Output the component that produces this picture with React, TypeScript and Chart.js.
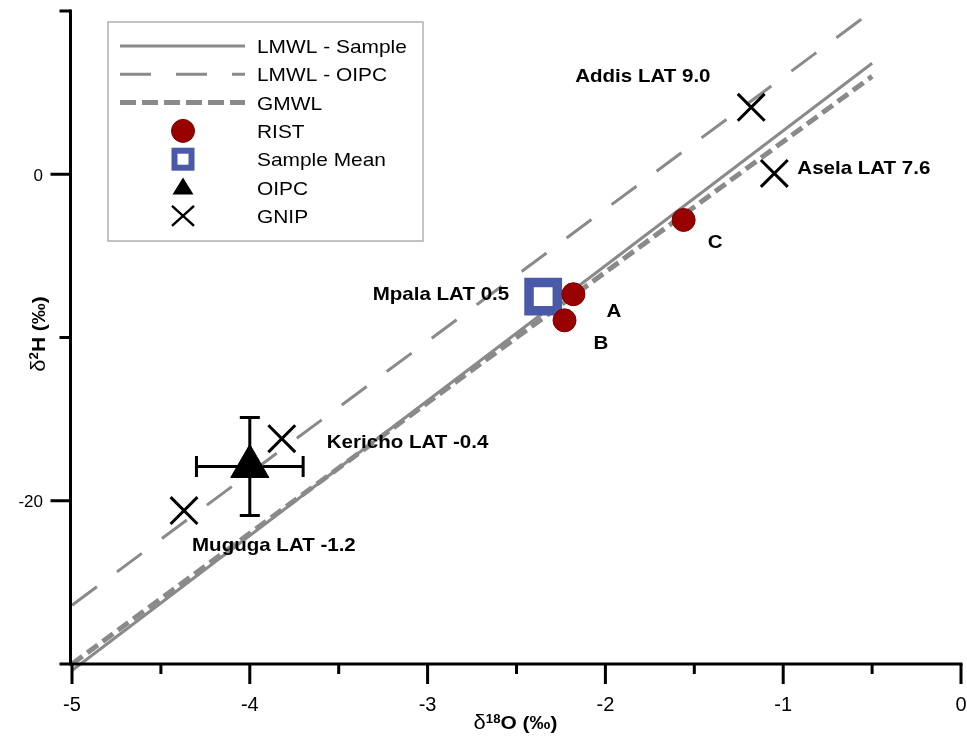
import React, { useEffect, useRef } from 'react';
import { Chart, registerables } from 'chart.js';

Chart.register(...registerables);

// ---------- data ----------
const xLabelTicks = [-5, -4, -3, -2, -1, 0];
const yLabelTicks = [0, -20];

const ristNames = ['A', 'B', 'C'];
const ristX = [-2.18, -2.23, -1.56];
const ristY = [-7.35, -8.95, -2.8];

const meanName = 'Mpala LAT 0.5';
const meanX = [-2.35];
const meanY = [-7.5];

const oipcX = [-4.0];
const oipcY = [-17.9];
const oipcErrX = [0.3];
const oipcErrY = [3.0];

const gnipNames = ['Addis LAT 9.0', 'Asela LAT 7.6', 'Kericho LAT -0.4', 'Muguga LAT -1.2'];
const gnipX = [-1.18, -1.05, -3.82, -4.37];
const gnipY = [4.1, 0.05, -16.2, -20.6];

const lmwlSampleX = [-5, -0.5];
const lmwlSampleY = [-30.4, 6.8];
const lmwlOipcX = [-5, -0.56];
const lmwlOipcY = [-26.4, 9.5];
const gmwlX = [-5, -0.5];
const gmwlY = [-30, 6];

const legendNames = ['LMWL - Sample', 'LMWL - OIPC', 'GMWL', 'RIST', 'Sample Mean', 'OIPC', 'GNIP'];

// ---------- style / layout ----------
const FONT = '"Liberation Sans", Arial, Helvetica, sans-serif';
const GRAY = '#8a8a8a';
const RED = '#990000';
const BLUE = '#4a5aa8';
const SX = 1.08;

// label offsets (pixels) from their points
const gnipLabelOff: [number, number][] = [[-176, -25], [23, 1], [45, 9], [8, 40]];
const ristLabelOff: [number, number][] = [[33, 23], [29, 29], [24, 28]];
const meanLabelOff: [number, number] = [-34, 3];

function stretchText(ctx: CanvasRenderingContext2D, text: string, x: number, y: number, font: string, align: 'left' | 'right' | 'center', sx = SX) {
  ctx.save();
  ctx.font = font;
  ctx.textBaseline = 'alphabetic';
  ctx.textAlign = 'left';
  ctx.fillStyle = '#000';
  const w = ctx.measureText(text).width * sx;
  const left = align === 'left' ? x : align === 'right' ? x - w : x - w / 2;
  ctx.translate(left, y);
  ctx.scale(sx, 1);
  ctx.fillText(text, 0, 0);
  ctx.restore();
  return w;
}

type Part = { t: string; font: string; dy: number };
function drawParts(ctx: CanvasRenderingContext2D, parts: Part[], cx: number, base: number, sx = 1.1) {
  ctx.save();
  ctx.fillStyle = '#000';
  ctx.textBaseline = 'alphabetic';
  ctx.textAlign = 'left';
  let total = 0;
  const ws = parts.map(p => { ctx.font = p.font; const w = ctx.measureText(p.t).width * sx; total += w; return w; });
  let x = cx - total / 2;
  parts.forEach((p, i) => {
    ctx.save();
    ctx.font = p.font;
    ctx.translate(x, base + p.dy);
    ctx.scale(sx, 1);
    ctx.fillText(p.t, 0, 0);
    ctx.restore();
    x += ws[i];
  });
  ctx.restore();
}

const customPlugin = {
  id: 'customDraw',
  beforeDatasetsDraw(chart: any) {
    const ctx: CanvasRenderingContext2D = chart.ctx;
    const xs = chart.scales.x, ys = chart.scales.y;
    ctx.save();
    ctx.strokeStyle = '#000';
    ctx.lineWidth = 3;
    oipcX.forEach((x, i) => {
      const px = xs.getPixelForValue(x), py = ys.getPixelForValue(oipcY[i]);
      const y1 = ys.getPixelForValue(oipcY[i] + oipcErrY[i]), y2 = ys.getPixelForValue(oipcY[i] - oipcErrY[i]);
      const x1 = xs.getPixelForValue(x - oipcErrX[i]), x2 = xs.getPixelForValue(x + oipcErrX[i]);
      ctx.beginPath();
      ctx.moveTo(px, y1); ctx.lineTo(px, y2);
      ctx.moveTo(px - 10, y1); ctx.lineTo(px + 10, y1);
      ctx.moveTo(px - 10, y2); ctx.lineTo(px + 10, y2);
      ctx.moveTo(x1, py); ctx.lineTo(x2, py);
      ctx.moveTo(x1, py - 10.5); ctx.lineTo(x1, py + 10.5);
      ctx.moveTo(x2, py - 10.5); ctx.lineTo(x2, py + 10.5);
      ctx.stroke();
    });
    ctx.restore();
  },
  afterDraw(chart: any) {
    const ctx: CanvasRenderingContext2D = chart.ctx;
    const xs = chart.scales.x, ys = chart.scales.y;
    const { left, right, top, bottom } = chart.chartArea;

    // axes
    ctx.save();
    ctx.strokeStyle = '#000';
    ctx.lineWidth = 3;
    ctx.lineCap = 'butt';
    ctx.beginPath();
    ctx.moveTo(left - 1.5, top - 1.5);
    ctx.lineTo(left - 1.5, bottom + 1.5);
    ctx.moveTo(left - 1.5, bottom);
    ctx.lineTo(right + 1.5, bottom);
    ctx.stroke();

    const yt: number[] = ys.ticks.map((t: any) => t.value);
    ctx.beginPath();
    yt.forEach(v => {
      const py = ys.getPixelForValue(v);
      const len = v % 20 === 0 ? 20 : 11;
      ctx.moveTo(left - 1.5 - len, py);
      ctx.lineTo(left - 1.5, py);
    });
    const xt: number[] = xs.ticks.map((t: any) => t.value);
    xt.forEach(v => {
      const px = Math.min(xs.getPixelForValue(v), right);
      const len = Math.abs(v - Math.round(v)) < 1e-6 ? 20 : 10;
      ctx.moveTo(px, bottom);
      ctx.lineTo(px, bottom + len);
    });
    ctx.stroke();
    ctx.restore();

    // tick labels
    ctx.save();
    ctx.fillStyle = '#000';
    ctx.textBaseline = 'alphabetic';
    ctx.font = `17px ${FONT}`;
    ctx.textAlign = 'right';
    yLabelTicks.forEach(v => {
      ctx.fillText(String(v), 43, ys.getPixelForValue(v) + 6.5);
    });
    ctx.font = `20px ${FONT}`;
    ctx.textAlign = 'center';
    xLabelTicks.forEach(v => {
      ctx.fillText(String(v), xs.getPixelForValue(v), 711);
    });
    ctx.restore();

    // axis titles
    drawParts(ctx, [
      { t: 'δ', font: `20px ${FONT}`, dy: 0 },
      { t: '18', font: `bold 12px ${FONT}`, dy: -6 },
      { t: 'O (‰)', font: `bold 19px ${FONT}`, dy: 0 },
    ], (left + right) / 2 - 1, 729);

    ctx.save();
    ctx.translate(45, 334);
    ctx.rotate(-Math.PI / 2);
    drawParts(ctx, [
      { t: 'δ', font: `20px ${FONT}`, dy: 0 },
      { t: '2', font: `bold 12px ${FONT}`, dy: -7 },
      { t: 'H (‰)', font: `bold 19px ${FONT}`, dy: 0 },
    ], 0, 0);
    ctx.restore();

    // annotations
    const bold = `bold 19px ${FONT}`;
    gnipNames.forEach((n, i) => {
      const px = xs.getPixelForValue(gnipX[i]), py = ys.getPixelForValue(gnipY[i]);
      stretchText(ctx, n, px + gnipLabelOff[i][0], py + gnipLabelOff[i][1], bold, 'left');
    });
    ristNames.forEach((n, i) => {
      const px = xs.getPixelForValue(ristX[i]), py = ys.getPixelForValue(ristY[i]);
      stretchText(ctx, n, px + ristLabelOff[i][0], py + ristLabelOff[i][1], bold, 'left');
    });
    {
      const px = xs.getPixelForValue(meanX[0]), py = ys.getPixelForValue(meanY[0]);
      stretchText(ctx, meanName, px + meanLabelOff[0], py + meanLabelOff[1], bold, 'right');
    }

    // legend
    ctx.save();
    ctx.fillStyle = '#fff';
    ctx.fillRect(108, 22, 315, 219);
    ctx.strokeStyle = '#b0b0b0';
    ctx.lineWidth = 1.5;
    ctx.strokeRect(108, 22, 315, 219);
    const rowY = (i: number) => 46 + i * 28.3;
    const sx0 = 120, sx1 = 245, cx = 183;
    ctx.strokeStyle = GRAY;
    ctx.lineWidth = 3;
    ctx.beginPath(); ctx.moveTo(sx0, rowY(0)); ctx.lineTo(sx1, rowY(0)); ctx.stroke();
    ctx.setLineDash([31, 25]);
    ctx.beginPath(); ctx.moveTo(sx0, rowY(1)); ctx.lineTo(sx1, rowY(1)); ctx.stroke();
    ctx.setLineDash([16, 6]);
    ctx.lineWidth = 5;
    ctx.beginPath(); ctx.moveTo(sx0, rowY(2)); ctx.lineTo(sx1, rowY(2)); ctx.stroke();
    ctx.setLineDash([]);
    ctx.fillStyle = RED; ctx.strokeStyle = '#7a0000'; ctx.lineWidth = 1;
    ctx.beginPath(); ctx.arc(cx, rowY(3), 11.5, 0, Math.PI * 2); ctx.fill(); ctx.stroke();
    ctx.fillStyle = BLUE;
    ctx.fillRect(cx - 11.5, rowY(4) - 11.5, 23, 23);
    ctx.fillStyle = '#fff';
    ctx.fillRect(cx - 5.5, rowY(4) - 5.5, 11, 11);
    ctx.fillStyle = '#000';
    ctx.beginPath();
    ctx.moveTo(cx, rowY(5) - 10);
    ctx.lineTo(cx + 10.5, rowY(5) + 7);
    ctx.lineTo(cx - 10.5, rowY(5) + 7);
    ctx.closePath(); ctx.fill();
    ctx.strokeStyle = '#000'; ctx.lineWidth = 2.5;
    ctx.beginPath();
    ctx.moveTo(cx - 11, rowY(6) - 10); ctx.lineTo(cx + 11, rowY(6) + 10);
    ctx.moveTo(cx + 11, rowY(6) - 10); ctx.lineTo(cx - 11, rowY(6) + 10);
    ctx.stroke();
    ctx.restore();
    legendNames.forEach((n, i) => {
      stretchText(ctx, n, 257, rowY(i) + 7, `19px ${FONT}`, 'left', 1.1);
    });
  },
};

export default function App() {
  const ref = useRef<HTMLCanvasElement>(null);
  useEffect(() => {
    const canvas = ref.current;
    if (!canvas) return;
    const pts = (xs: number[], ys: number[]) => xs.map((x, i) => ({ x, y: ys[i] }));
    const chart = new Chart(canvas, {
      type: 'scatter',
      data: {
        datasets: [
          { label: 'RIST', data: pts(ristX, ristY), pointStyle: 'circle', pointRadius: 11.5, backgroundColor: RED, borderColor: '#7a0000', borderWidth: 1, order: 1 },
          { label: 'Sample Mean', data: pts(meanX, meanY), pointStyle: 'rect', pointRadius: 20, backgroundColor: '#ffffff', borderColor: BLUE, borderWidth: 9.5, order: 2 },
          { label: 'OIPC', data: pts(oipcX, oipcY), pointStyle: 'triangle', pointRadius: 22, backgroundColor: '#000', borderColor: '#000', borderWidth: 1, order: 3 },
          { label: 'GNIP', data: pts(gnipX, gnipY), pointStyle: 'crossRot', pointRadius: 19, borderColor: '#000', backgroundColor: '#000', borderWidth: 3, order: 4 },
          { label: 'GMWL', data: pts(gmwlX, gmwlY), showLine: true, pointRadius: 0, borderColor: GRAY, borderWidth: 5, borderDash: [13, 6], clip: false, order: 5 } as any,
          { label: 'LMWL - OIPC', data: pts(lmwlOipcX, lmwlOipcY), showLine: true, pointRadius: 0, borderColor: GRAY, borderWidth: 3, borderDash: [31, 25], clip: false, order: 6 } as any,
          { label: 'LMWL - Sample', data: pts(lmwlSampleX, lmwlSampleY), showLine: true, pointRadius: 0, borderColor: GRAY, borderWidth: 3, clip: false, order: 7 } as any,
        ],
      },
      options: {
        responsive: false,
        animation: false,
        events: [],
        layout: { autoPadding: false, padding: { left: 72, top: 11, right: 6, bottom: 72 } },
        plugins: { legend: { display: false }, tooltip: { enabled: false } },
        scales: {
          x: { type: 'linear', min: -5, max: 0, display: false, ticks: { stepSize: 0.5 } },
          y: { type: 'linear', min: -30, max: 10, display: false, ticks: { stepSize: 10 } },
        },
      } as any,
      plugins: [customPlugin],
    });
    return () => chart.destroy();
  }, []);
  return (
    <div style={{ position: 'absolute', left: 0, top: 0, width: 967, height: 736, background: '#fff' }}>
      <canvas ref={ref} width={967} height={736} style={{ display: 'block' }} />
    </div>
  );
}
